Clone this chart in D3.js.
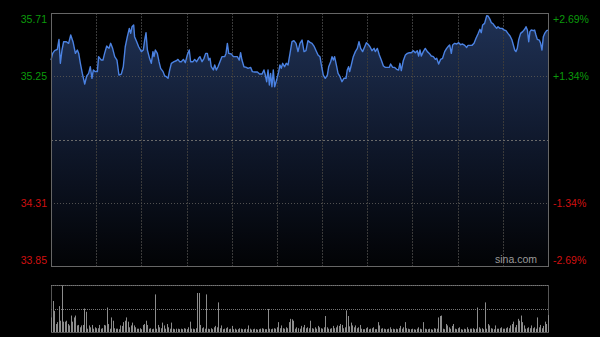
<!DOCTYPE html>
<html>
<head>
<meta charset="utf-8">
<script src="https://cdn.jsdelivr.net/npm/d3@7"></script>
<style>
  body { margin: 0; background: #000; }
  text { font-family: "Liberation Sans", Arial, sans-serif; }
</style>
</head>
<body>
<svg id="chart" width="600" height="337"></svg>
<script>
// minutes since 09:30 (lunch break removed) and traded price
const tradeMinutes = [
  0, 1.1, 2.4, 4.2, 5.3, 6.2, 7.3, 8.4, 10.2, 11.7, 13.1, 14.6, 16.2, 17.5, 18.4, 19.5, 20.8, 22.4, 23.7, 25.0,
  26.1, 27.2, 28.1, 29.4, 30.8, 31.6, 33.4, 34.5, 35.6, 37.0, 38.5, 39.6, 40.9, 42.3, 43.8, 45.1, 46.7, 48.0, 49.3, 50.7,
  52.0, 52.9, 53.8, 54.9, 55.5, 56.9, 58.2, 60.0, 61.3, 62.2, 63.1, 64.0, 65.5, 66.6, 67.7, 68.4, 69.3, 70.6, 71.7, 72.8,
  74.4, 75.5, 76.6, 77.7, 78.8, 79.9, 81.7, 83.2, 84.3, 85.4, 86.5, 87.9, 89.2, 90.5, 91.8, 92.7, 94.3, 95.4, 96.7, 98.0,
  98.9, 100.3, 101.6, 102.7, 103.8, 104.7, 105.6, 106.4, 107.8, 108.7, 109.8, 110.9, 112.2, 113.5, 115.3, 116.2, 117.1, 118.0, 119.7, 121.1,
  122.4, 123.7, 125.0, 125.9, 126.8, 128.1, 129.7, 130.8, 132.6, 133.7, 135.2, 137.0, 138.5, 140.1, 141.4, 142.3, 143.2, 144.1, 145.0, 145.8,
  146.7, 147.6, 148.5, 149.8, 151.2, 152.0, 152.9, 153.8, 155.1, 156.2, 157.4, 158.7, 160.0, 161.3, 162.7, 164.0, 165.3, 166.7, 168.0, 169.3,
  170.6, 172.0, 173.3, 174.6, 176.0, 177.3, 178.6, 179.5, 180.8, 182.1, 183.5, 184.4, 185.7, 186.6, 187.5, 188.3, 189.7, 190.6, 191.9, 193.2,
  194.5, 195.9, 196.7, 197.6, 198.3, 199.4, 200.7, 202.1, 203.4, 204.5, 205.6, 206.9, 208.3, 209.4, 210.5, 211.8, 213.1, 214.5, 215.3, 216.7,
  218.0, 219.3, 220.7, 222.0, 223.3, 224.6, 225.5, 226.9, 228.2, 229.5, 230.8, 231.7, 232.6, 233.9, 235.3, 236.6, 237.9, 239.2, 240.6, 241.9,
  243.2, 244.1, 245.0, 245.9, 247.2, 248.5, 249.9, 251.2, 252.5, 253.9, 255.2, 256.1, 257.4, 258.7, 260.0, 261.4, 262.7, 264.0, 264.7, 265.8,
  266.7, 268.0, 269.4, 270.7, 272.0, 273.3, 274.7, 276.0, 276.9, 278.2, 279.5, 280.9, 282.2, 283.5, 284.8, 285.7, 286.6, 287.9, 289.3, 290.2,
  291.5, 292.4, 293.7, 294.6, 295.9, 296.8, 298.1, 299.5, 300.8, 302.1, 303.4, 304.8, 306.1, 307.0, 307.9, 308.7, 309.6, 310.5, 311.8, 313.2,
  314.5, 315.4, 316.3, 317.2, 318.0, 318.9, 320.3, 321.1, 322.0, 322.9, 324.2, 325.1, 326.0, 326.9, 327.8, 329.1, 330
];
const tradePrices = [
  35.364, 35.413, 35.433, 35.443, 35.516, 35.340, 35.438, 35.499, 35.499, 35.487, 35.548, 35.499, 35.413, 35.438, 35.413, 35.340, 35.266, 35.188, 35.247, 35.266,
  35.315, 35.230, 35.291, 35.279, 35.279, 35.389, 35.364, 35.364, 35.413, 35.467, 35.450, 35.487, 35.450, 35.389, 35.364, 35.254, 35.261, 35.315, 35.462, 35.536,
  35.597, 35.560, 35.609, 35.622, 35.536, 35.499, 35.462, 35.426, 35.438, 35.511, 35.565, 35.438, 35.375, 35.340, 35.426, 35.389, 35.438, 35.413, 35.352, 35.303,
  35.279, 35.247, 35.242, 35.230, 35.291, 35.340, 35.352, 35.359, 35.369, 35.352, 35.352, 35.369, 35.345, 35.401, 35.438, 35.352, 35.352, 35.369, 35.352, 35.377,
  35.389, 35.352, 35.377, 35.413, 35.413, 35.364, 35.377, 35.315, 35.291, 35.328, 35.291, 35.315, 35.352, 35.389, 35.389, 35.413, 35.487, 35.413, 35.409, 35.389,
  35.389, 35.389, 35.364, 35.418, 35.364, 35.315, 35.310, 35.303, 35.310, 35.279, 35.276, 35.276, 35.261, 35.261, 35.291, 35.254, 35.205, 35.291, 35.181, 35.266,
  35.168, 35.291, 35.168, 35.217, 35.279, 35.328, 35.303, 35.340, 35.315, 35.340, 35.328, 35.413, 35.499, 35.507, 35.487, 35.426, 35.487, 35.511, 35.426, 35.433,
  35.507, 35.494, 35.487, 35.467, 35.433, 35.401, 35.389, 35.328, 35.254, 35.230, 35.254, 35.315, 35.352, 35.389, 35.364, 35.389, 35.315, 35.266, 35.242, 35.205,
  35.230, 35.230, 35.291, 35.315, 35.279, 35.328, 35.389, 35.426, 35.450, 35.499, 35.450, 35.426, 35.462, 35.492, 35.480, 35.462, 35.433, 35.450, 35.426, 35.450,
  35.401, 35.364, 35.320, 35.310, 35.310, 35.310, 35.335, 35.310, 35.310, 35.296, 35.291, 35.340, 35.286, 35.359, 35.401, 35.413, 35.418, 35.418, 35.433, 35.418,
  35.433, 35.394, 35.438, 35.394, 35.426, 35.450, 35.426, 35.413, 35.394, 35.389, 35.369, 35.377, 35.335, 35.369, 35.377, 35.426, 35.450, 35.467, 35.475, 35.413,
  35.475, 35.487, 35.482, 35.492, 35.477, 35.482, 35.472, 35.457, 35.472, 35.472, 35.472, 35.487, 35.524, 35.556, 35.590, 35.565, 35.622, 35.634, 35.690, 35.688,
  35.663, 35.639, 35.629, 35.614, 35.597, 35.609, 35.597, 35.597, 35.585, 35.580, 35.560, 35.541, 35.511, 35.475, 35.438, 35.426, 35.450, 35.511, 35.560, 35.573,
  35.590, 35.609, 35.585, 35.499, 35.573, 35.585, 35.580, 35.585, 35.548, 35.516, 35.511, 35.487, 35.438, 35.536, 35.560, 35.580, 35.585
];
// one volume bar per minute, scaled so the panel top is 100
const volumes = [
  31, 66, 45, 17, 21, 55, 24, 99, 22, 22,
  24, 17, 14, 35, 22, 31, 35, 14, 15, 10,
  14, 15, 50, 43, 7, 14, 10, 15, 7, 10,
  8, 8, 15, 7, 8, 15, 14, 52, 17, 7,
  31, 24, 8, 7, 7, 6, 14, 13, 21, 24,
  31, 22, 10, 14, 20, 14, 10, 7, 7, 8,
  6, 15, 17, 24, 15, 7, 8, 6, 7, 80,
  7, 15, 10, 8, 20, 14, 7, 17, 10, 7,
  20, 7, 6, 7, 7, 6, 7, 6, 8, 7,
  6, 10, 22, 7, 7, 6, 8, 83, 83, 15,
  8, 10, 7, 80, 7, 6, 8, 6, 10, 13,
  10, 63, 8, 14, 6, 7, 8, 10, 6, 7,
  13, 6, 7, 5, 6, 8, 7, 6, 6, 7,
  6, 14, 7, 5, 6, 7, 6, 5, 6, 7,
  8, 7, 6, 6, 49, 7, 6, 7, 8, 7,
  10, 21, 8, 14, 8, 7, 10, 8, 21, 28,
  27, 24, 7, 10, 8, 7, 13, 10, 15, 8,
  10, 8, 24, 8, 7, 10, 7, 13, 10, 8,
  7, 10, 34, 10, 7, 7, 8, 13, 8, 10,
  14, 13, 17, 15, 8, 10, 46, 34, 12, 20,
  14, 10, 14, 8, 10, 15, 7, 6, 6, 8,
  10, 6, 7, 8, 10, 6, 6, 21, 14, 7,
  8, 7, 6, 6, 7, 10, 6, 7, 6, 7,
  6, 8, 13, 7, 10, 21, 8, 7, 6, 6,
  7, 6, 5, 7, 10, 7, 6, 21, 7, 6,
  6, 7, 6, 5, 8, 7, 7, 31, 34, 35,
  7, 6, 17, 14, 10, 7, 13, 17, 7, 6,
  8, 10, 6, 5, 7, 6, 10, 6, 7, 7,
  8, 6, 7, 52, 10, 7, 8, 6, 63, 7,
  17, 14, 8, 7, 6, 14, 7, 7, 8, 10,
  7, 7, 8, 10, 8, 14, 17, 22, 10, 15,
  28, 24, 35, 21, 14, 7, 8, 10, 8, 14,
  8, 10, 7, 31, 10, 15, 8, 13, 22, 17, 36
];
const priceTicks = [35.71, 35.245, 34.78, 34.315, 33.85];
const priceLabels = ["35.71", "35.25", "", "34.31", "33.85"];
const pctLabels = ["+2.69%", "+1.34%", "", "-1.34%", "-2.69%"];
const gridMinutes = [30, 60, 90, 120, 150, 180, 210, 240, 270, 300];

drawChart();

function drawChart() {
  let left = 51, right = 548, top = 13, bottom = 266,
    volTop = 285, volBottom = 332;
  let green = "#0b9a0b", red = "#d01010";

  let svg = d3.select("#chart");
  let x = d3.scaleLinear().domain([0, 330]).range([left, right]);
  let y = d3.scaleLinear().domain([33.85, 35.71]).range([bottom, top]);
  let yVol = d3.scaleLinear().domain([0, 100]).range([volBottom, volTop]);

  let data = tradeMinutes.map((m, i) => ({ m: m, p: tradePrices[i] }));

  // gradient under the price line
  let grad = svg.append("defs").append("linearGradient")
    .attr("id", "fillGrad")
    .attr("x1", 0).attr("y1", 0).attr("x2", 0).attr("y2", 1);
  grad.append("stop").attr("offset", "0%").attr("stop-color", "#1f3154");
  grad.append("stop").attr("offset", "55%").attr("stop-color", "#0e1628");
  grad.append("stop").attr("offset", "100%").attr("stop-color", "#020305");

  let area = d3.area()
    .x((d) => x(d.m))
    .y0(bottom)
    .y1((d) => y(d.p));

  svg.append("path")
    .datum(data)
    .attr("d", area)
    .attr("fill", "url(#fillGrad)");

  // vertical grid
  svg.selectAll(".vgrid")
    .data(gridMinutes)
    .enter()
    .append("line")
    .attr("class", "vgrid")
    .attr("x1", (d) => Math.round(x(d)) + 0.5)
    .attr("x2", (d) => Math.round(x(d)) + 0.5)
    .attr("y1", top)
    .attr("y2", bottom)
    .attr("stroke", "#3a3a3a")
    .attr("stroke-dasharray", "2,1");

  // horizontal grid (inner ticks only)
  svg.selectAll(".hgrid")
    .data(priceTicks.slice(1, 4))
    .enter()
    .append("line")
    .attr("class", "hgrid")
    .attr("x1", left)
    .attr("x2", right)
    .attr("y1", (d) => Math.round(y(d)) + 0.5)
    .attr("y2", (d) => Math.round(y(d)) + 0.5)
    .attr("stroke", (d, i) => (i == 1 ? "#6a6a6a" : "#505050"))
    .attr("stroke-dasharray", (d, i) => (i == 1 ? "2,2" : "1,2"));

  svg.append("path")
    .datum(data)
    .attr("d", d3.line().x((d) => x(d.m)).y((d) => y(d.p)))
    .attr("fill", "none")
    .attr("stroke", "#4b82e2")
    .attr("stroke-width", 1.4)
    .attr("stroke-linejoin", "round");

  // plot frame
  svg.append("rect")
    .attr("x", left + 0.5)
    .attr("y", top + 0.5)
    .attr("width", right - left)
    .attr("height", bottom - top)
    .attr("fill", "none")
    .attr("stroke", "#666");

  // price labels
  let labelY = (d, i) => {
    if (i == 0) return y(d) + 10;
    if (i == priceTicks.length - 1) return y(d) - 2;
    return y(d) + 4;
  };
  let tickColor = (i) => (i < 2 ? green : red);

  svg.selectAll(".lbl-left")
    .data(priceTicks)
    .enter()
    .append("text")
    .attr("class", "lbl-left")
    .attr("x", left - 4)
    .attr("y", labelY)
    .attr("text-anchor", "end")
    .style("font-size", "10.5px")
    .style("fill", (d, i) => tickColor(i))
    .text((d, i) => priceLabels[i]);

  svg.selectAll(".lbl-right")
    .data(priceTicks)
    .enter()
    .append("text")
    .attr("class", "lbl-right")
    .attr("x", right + 5)
    .attr("y", labelY)
    .attr("text-anchor", "start")
    .style("font-size", "10.5px")
    .style("fill", (d, i) => tickColor(i))
    .text((d, i) => pctLabels[i]);

  svg.append("text")
    .attr("x", right - 11)
    .attr("y", bottom - 3)
    .attr("text-anchor", "end")
    .style("font-size", "10.5px")
    .style("fill", "#9a9a9a")
    .text("sina.com");

  // volume panel
  svg.append("rect")
    .attr("x", left + 0.5)
    .attr("y", volTop + 0.5)
    .attr("width", right - left)
    .attr("height", volBottom - volTop)
    .attr("fill", "none")
    .attr("stroke", "#555");

  svg.selectAll(".vol-grid")
    .data([100, 50])
    .enter()
    .append("line")
    .attr("class", "vol-grid")
    .attr("x1", left)
    .attr("x2", right)
    .attr("y1", (d) => Math.round(yVol(d)) + 0.5)
    .attr("y2", (d) => Math.round(yVol(d)) + 0.5)
    .attr("stroke", "#777")
    .attr("stroke-dasharray", "1,1");

  svg.selectAll(".vol")
    .data(volumes)
    .enter()
    .append("rect")
    .attr("class", "vol")
    .attr("x", (d, i) => Math.round(x(i)))
    .attr("y", (d) => yVol(d))
    .attr("width", 1)
    .attr("height", (d) => yVol(0) - yVol(d))
    .attr("fill", "#8c8c8c");
}
</script>
</body>
</html>
